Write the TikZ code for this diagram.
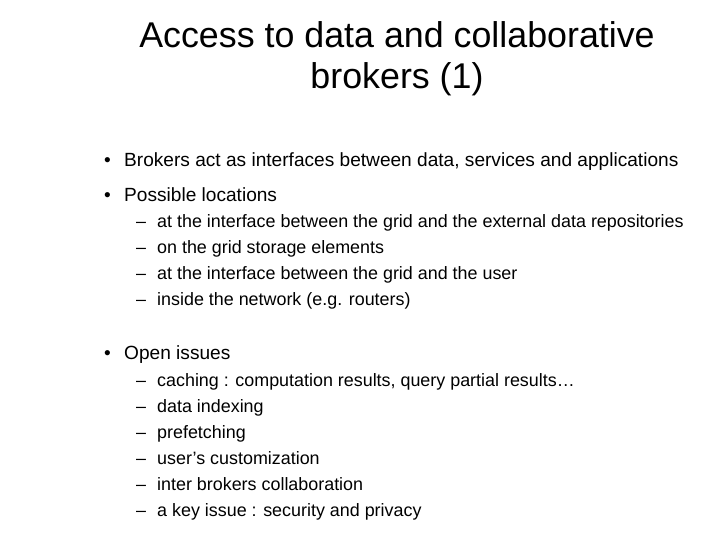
\documentclass[tikz,border=0pt]{standalone}
\usepackage{fontspec}
\setmainfont{Liberation Sans}
\begin{document}
\begin{tikzpicture}[x=1pt,y=-1pt,
  title/.style={font=\fontsize{35.8}{41}\selectfont,align=center,inner sep=0pt},
  lvl/.style={font=\fontsize{19.1}{22}\selectfont,anchor=west,inner sep=0pt,text height=13pt,text depth=4pt},
  sub/.style={font=\fontsize{17.9}{20}\selectfont,anchor=west,inner sep=0pt,text height=12pt,text depth=4pt}]
\useasboundingbox (0,0) rectangle (720,540);
\node[title] (t) at (397,58.5) {Access to data and collaborative\\brokers (1)};
\node[lvl] (b1m) at (104,162) {•};
\node[lvl] (b1) at (124,162) {Brokers act as interfaces between data, services and applications};
\node[lvl] (b2m) at (104,197) {•};
\node[lvl] (b2) at (124,197) {Possible locations};
\foreach \y/\t [count=\i] in {223/{at the interface between the grid and the external data repositories},249/{on the grid storage elements},275/{at the interface between the grid and the user},301/{inside the network (e.g. routers)}}{
  \node[sub] (pd\i) at (136,\y) {–};
  \node[sub] (p\i) at (157,\y) {\t};
}
\node[lvl] (b3m) at (104,355) {•};
\node[lvl] (b3) at (124,355) {Open issues};
\foreach \y/\t [count=\i] in {382/{caching : computation results, query partial results…},408/{data indexing},434/{prefetching},460/{user’s customization},486/{inter brokers collaboration},512/{a key issue : security and privacy}}{
  \node[sub] (od\i) at (136,\y) {–};
  \node[sub] (o\i) at (157,\y) {\t};
}
\end{tikzpicture}
\end{document}
